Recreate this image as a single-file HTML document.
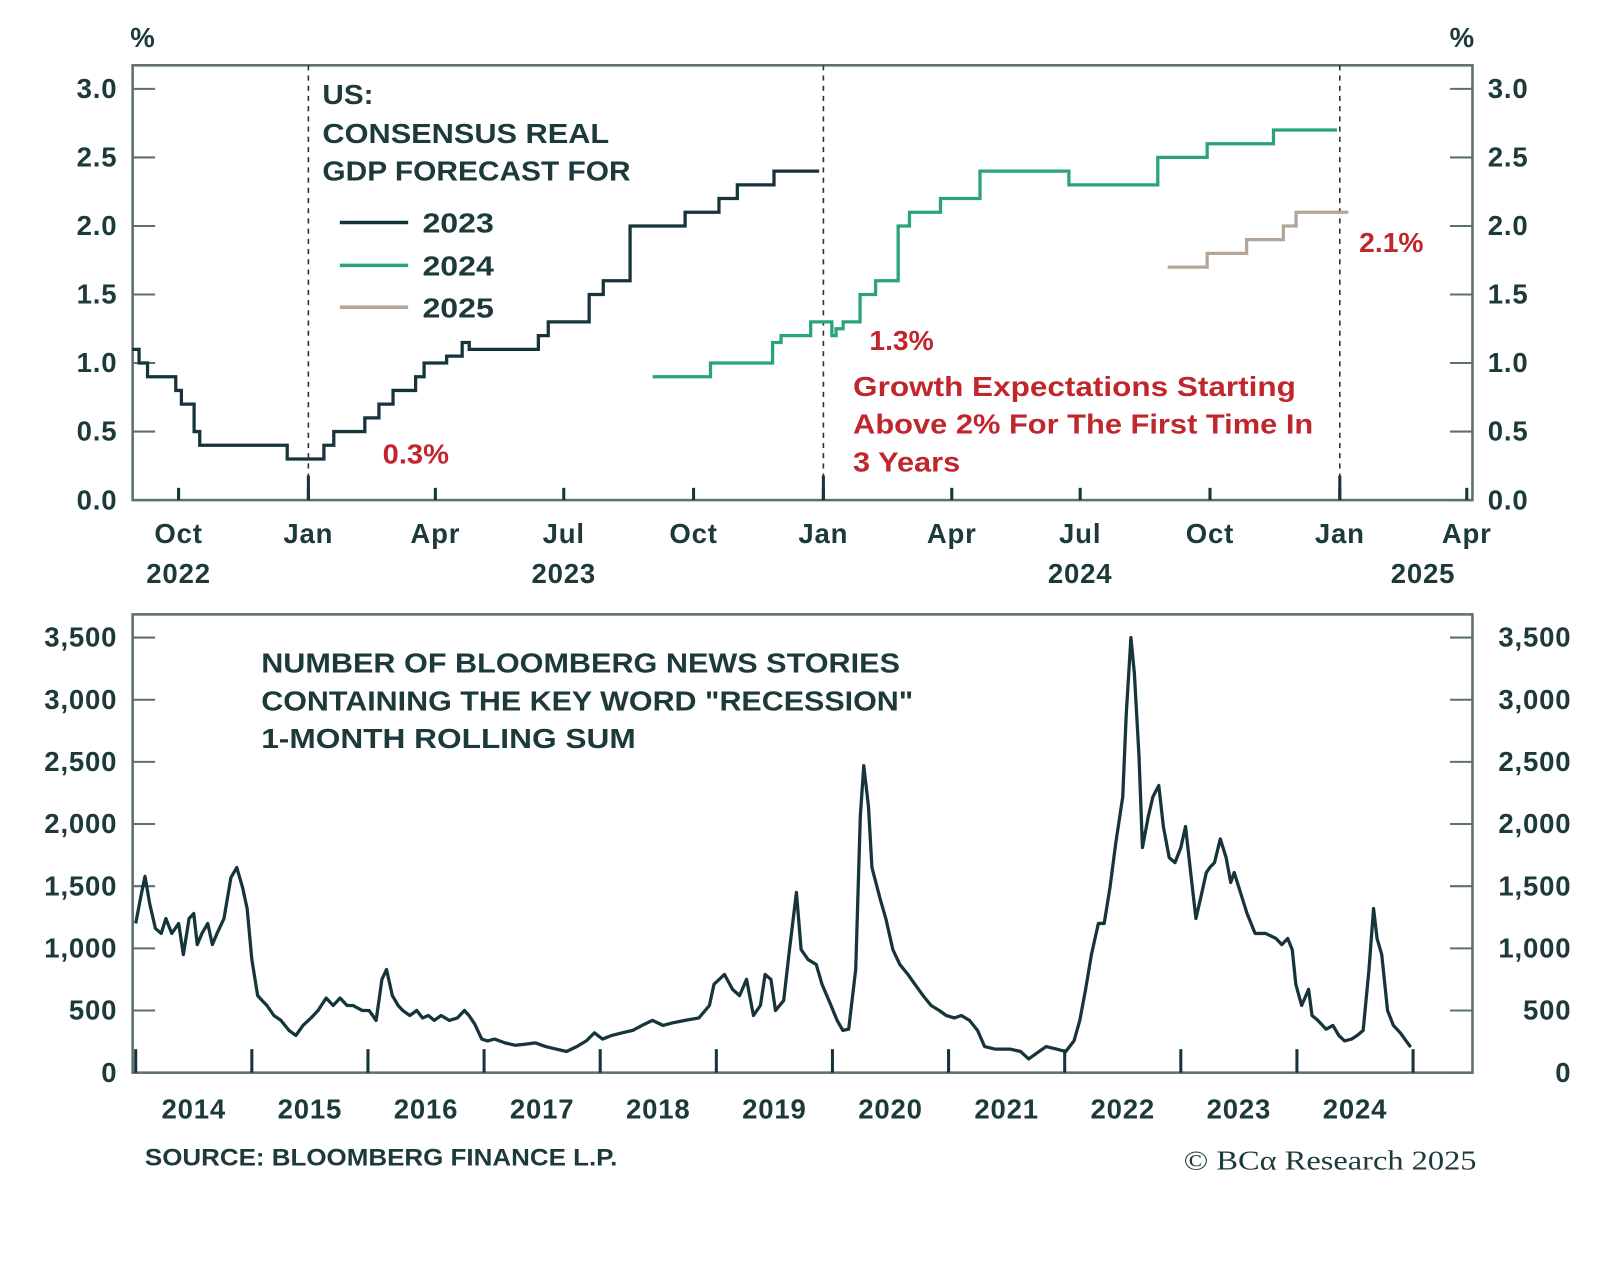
<!DOCTYPE html>
<html><head><meta charset="utf-8">
<style>
body{margin:0;background:#fff;}
svg{display:block;font-family:"Liberation Sans",sans-serif;}
.t{fill:#1d3a3a;font-size:27px;font-weight:bold;letter-spacing:0.8px;}
.r{fill:#c0272d;font-size:27px;font-weight:bold;}
</style></head>
<body>
<svg id="c" width="1600" height="1288" viewBox="0 0 1568 1262" preserveAspectRatio="none"></svg>
<script>
// ---- top chart data (step series: date of change, value) ----
const d2023 = ["2022-08-29","2022-09-03","2022-09-09","2022-09-29","2022-10-03","2022-10-12","2022-10-16","2022-12-17","2023-01-12","2023-01-19","2023-02-10","2023-02-20","2023-03-02","2023-03-18","2023-03-24","2023-04-09","2023-04-20","2023-04-25","2023-06-13","2023-06-20","2023-07-19","2023-07-29","2023-08-17","2023-09-25","2023-10-19","2023-11-01","2023-11-27","2023-12-29"];
const v2023 = [1.1,1.0,0.9,0.8,0.7,0.5,0.4,0.3,0.4,0.5,0.6,0.7,0.8,0.9,1.0,1.05,1.15,1.1,1.2,1.3,1.5,1.6,2.0,2.1,2.2,2.3,2.4,2.4];
const d2024 = ["2023-09-02","2023-10-13","2023-11-26","2023-12-02","2023-12-23","2024-01-07","2024-01-10","2024-01-15","2024-01-27","2024-02-07","2024-02-23","2024-03-02","2024-03-24","2024-04-21","2024-06-23","2024-08-25","2024-09-29","2024-11-15","2024-12-30"];
const v2024 = [0.9,1.0,1.15,1.2,1.3,1.2,1.25,1.3,1.5,1.6,2.0,2.1,2.2,2.4,2.3,2.5,2.6,2.7,2.7];
const d2025 = ["2024-09-01","2024-09-29","2024-10-27","2024-11-22","2024-12-01","2025-01-07"];
const v2025 = [1.7,1.8,1.9,2.0,2.1,2.1];
const topYTicks = [0,0.5,1,1.5,2,2.5,3];
const topYLabels = ["0.0","0.5","1.0","1.5","2.0","2.5","3.0"];
const topXTicks = ["2022-10-01","2023-01-01","2023-04-01","2023-07-01","2023-10-01","2024-01-01","2024-04-01","2024-07-01","2024-10-01","2025-01-01","2025-04-01"];
const topXLabels = ["Oct","Jan","Apr","Jul","Oct","Jan","Apr","Jul","Oct","Jan","Apr"];
const topYearLabels = [["2022","2022-10-01"],["2023","2023-07-01"],["2024","2024-07-01"],["2025","2025-03-01"]];
// ---- bottom chart data ----
const newsYears = [2014.00,2014.04,2014.08,2014.12,2014.17,2014.22,2014.26,2014.31,2014.37,2014.41,2014.46,2014.50,2014.53,2014.57,2014.62,2014.66,2014.70,2014.76,2014.82,2014.87,2014.92,2014.96,2015.00,2015.05,2015.09,2015.13,2015.19,2015.25,2015.32,2015.38,2015.44,2015.51,2015.57,2015.64,2015.70,2015.76,2015.82,2015.87,2015.95,2016.01,2016.07,2016.12,2016.16,2016.21,2016.26,2016.30,2016.36,2016.42,2016.47,2016.52,2016.57,2016.63,2016.70,2016.77,2016.83,2016.87,2016.92,2016.98,2017.03,2017.09,2017.18,2017.27,2017.36,2017.44,2017.53,2017.62,2017.71,2017.80,2017.88,2017.95,2018.02,2018.10,2018.19,2018.28,2018.36,2018.45,2018.54,2018.62,2018.73,2018.85,2018.94,2018.98,2019.07,2019.14,2019.20,2019.26,2019.32,2019.38,2019.42,2019.47,2019.51,2019.58,2019.63,2019.69,2019.73,2019.79,2019.86,2019.91,2019.97,2020.04,2020.09,2020.14,2020.20,2020.24,2020.27,2020.31,2020.34,2020.41,2020.46,2020.52,2020.58,2020.65,2020.71,2020.78,2020.85,2020.92,2020.98,2021.05,2021.11,2021.18,2021.25,2021.31,2021.40,2021.53,2021.62,2021.69,2021.75,2021.84,2021.93,2022.01,2022.08,2022.13,2022.18,2022.23,2022.29,2022.34,2022.39,2022.44,2022.50,2022.53,2022.57,2022.60,2022.64,2022.67,2022.72,2022.76,2022.81,2022.85,2022.90,2022.95,2023.00,2023.04,2023.09,2023.13,2023.17,2023.22,2023.25,2023.29,2023.34,2023.39,2023.43,2023.46,2023.50,2023.57,2023.64,2023.73,2023.82,2023.87,2023.92,2023.96,2023.99,2024.04,2024.10,2024.13,2024.18,2024.25,2024.31,2024.36,2024.41,2024.47,2024.52,2024.57,2024.62,2024.66,2024.69,2024.73,2024.78,2024.83,2024.89,2024.94,2024.98];
const newsValues = [1200,1400,1580,1360,1160,1120,1240,1120,1200,950,1240,1280,1030,1120,1200,1030,1120,1240,1570,1650,1490,1320,910,620,580,540,460,420,340,300,380,440,500,600,540,600,540,540,500,500,420,750,830,620,540,500,460,500,440,460,420,460,420,440,500,460,390,270,255,270,240,220,230,240,210,190,170,210,255,320,270,300,320,340,380,420,380,400,420,440,540,710,790,670,620,750,460,540,790,750,500,580,990,1450,990,910,870,710,580,420,340,350,830,2060,2470,2140,1650,1400,1240,990,870,790,710,620,540,500,460,440,460,420,340,210,190,190,170,110,150,210,190,170,255,420,670,950,1200,1200,1490,1850,2220,2880,3500,3210,2550,1810,2060,2220,2310,1980,1730,1690,1810,1980,1570,1240,1400,1610,1650,1690,1880,1730,1530,1610,1490,1280,1120,1120,1080,1030,1080,990,710,540,670,460,420,350,380,300,255,270,300,340,830,1320,1080,950,500,380,320,255,205];
const botYTicks = [0,500,1000,1500,2000,2500,3000,3500];
const botYLabels = ["0","500","1,000","1,500","2,000","2,500","3,000","3,500"];
const botXTicks = [2014,2015,2016,2017,2018,2019,2020,2021,2022,2023,2024,2025];
const botXLabels = ["2014","2015","2016","2017","2018","2019","2020","2021","2022","2023","2024"];

const svg = document.getElementById('c');
const NS = "http://www.w3.org/2000/svg";
function el(tag, attrs, parent){const e=document.createElementNS(NS,tag);for(const k in attrs)e.setAttribute(k,attrs[k]);(parent||svg).appendChild(e);return e;}
function txt(s,x,y,cls,anchor,parent,len){const e=el('text',{x:x,y:y,'class':cls,'text-anchor':anchor||'start'},parent);if(len){e.setAttribute('textLength',len);e.setAttribute('lengthAdjust','spacingAndGlyphs');e.style.letterSpacing='0';}e.textContent=s;return e;}

// ---- top scales ----
const T0 = Date.UTC(2022,9,1), T1 = Date.UTC(2025,0,1);
function tx(s){const p=s.split('-');const t=Date.UTC(+p[0],+p[1]-1,+p[2]);return 175+(t-T0)/(T1-T0)*(1313-175);}
function ty(v){return 490 - v*134.3;}
const AX='#5e6f70', LN='#15353a';

const topG = el('g',{});


el('rect',{x:130,y:64,width:1313,height:426,fill:'none',stroke:AX,'stroke-width':2.5},topG);
txt('%',140,46,'t','middle',topG);
txt('%',1433,46,'t','middle',topG);
topYTicks.forEach((v,i)=>{
  const y=ty(v);
  el('line',{x1:130,x2:152,y1:y,y2:y,stroke:AX,'stroke-width':2},topG);
  el('line',{x1:1421,x2:1443,y1:y,y2:y,stroke:AX,'stroke-width':2},topG);
  const a=txt(topYLabels[i],115,y+9,'t','end',topG);
  
  const b=txt(topYLabels[i],1458,y+9,'t','start',topG);
  
});
topXTicks.forEach((d,i)=>{
  const x=tx(d);
  el('line',{x1:x,x2:x,y1:490,y2:478,stroke:LN,'stroke-width':3},topG);
  const l=txt(topXLabels[i],x,532,'t','middle',topG);
  
});
topYearLabels.forEach(p=>{const l=txt(p[0],tx(p[1]),571,'t','middle',topG);});
["2023-01-01","2024-01-01","2025-01-01"].forEach(d=>{
  const x=tx(d);
  const l=el('line',{x1:x,x2:x,y1:64,y2:490,stroke:'#333','stroke-width':1.6,'stroke-dasharray':'5,5'},topG);
  
  el('line',{x1:x,x2:x,y1:466,y2:490,stroke:LN,'stroke-width':3},topG);
});
function step(ds,vs,color,name){
  let p='';
  ds.forEach((d,i)=>{const x=tx(d),y=ty(vs[i]);p+= i===0?`M${x},${y}`:`H${x}V${y}`;});
  const e=el('path',{d:p,fill:'none',stroke:color,'stroke-width':3.2},topG);
  
  
}
step(d2023,v2023,LN,'series-2023');
step(d2024,v2024,'#2aa37a','series-2024');
step(d2025,v2025,'#b3a698','series-2025');
txt('US:',316,102,'t','start',topG,50);
txt('CONSENSUS REAL',316,140,'t','start',topG,281);
txt('GDP FORECAST FOR',316,177,'t','start',topG,302);
[['2023',LN,228],['2024','#2aa37a',270],['2025','#b3a698',311]].forEach(l=>{
  const g=el('g',{},topG);
  
  
  el('line',{x1:333,x2:400,y1:l[2]-10,y2:l[2]-10,stroke:l[1],'stroke-width':3.5},g);
  txt(l[0],414,l[2],'t','start',g,70);
});
txt('0.3%',375,454,'r','start',topG,65);
txt('1.3%',852,343,'r','start',topG,63);
txt('2.1%',1332,247,'r','start',topG,63);
txt('Growth Expectations Starting',836,388,'r','start',topG,434);
txt('Above 2% For The First Time In',836,425,'r','start',topG,451);
txt('3 Years',836,462,'r','start',topG,105);

// ---- bottom scales ----
function bx(yr){return 133+(yr-2014)*113.8;}
function by(v){return 1051 - v*0.1218;}
const botG = el('g',{});


el('rect',{x:130,y:602,width:1313,height:449,fill:'none',stroke:AX,'stroke-width':2.5},botG);
botYTicks.forEach((v,i)=>{
  const y=by(v);
  el('line',{x1:130,x2:152,y1:y,y2:y,stroke:AX,'stroke-width':2},botG);
  el('line',{x1:1421,x2:1443,y1:y,y2:y,stroke:AX,'stroke-width':2},botG);
  const a=txt(botYLabels[i],115,y+9,'t','end',botG);
  
  const b=txt(botYLabels[i],1540,y+9,'t','end',botG);
  
});
botXTicks.forEach(y=>{const x=bx(y);el('line',{x1:x,x2:x,y1:1051,y2:1028,stroke:LN,'stroke-width':3},botG);});
botXLabels.forEach((s,i)=>{const l=txt(s,bx(botXTicks[i]+0.5),1096,'t','middle',botG);});
let bp='';
newsYears.forEach((yr,i)=>{bp+=(i?'L':'M')+bx(yr).toFixed(1)+','+by(newsValues[i]).toFixed(1);});
const newsLine=el('path',{d:bp,fill:'none',stroke:LN,'stroke-width':3.2,'stroke-linejoin':'round'},botG);


txt('NUMBER OF BLOOMBERG NEWS STORIES',256,659,'t','start',botG,626);
txt('CONTAINING THE KEY WORD "RECESSION"',256,696,'t','start',botG,639);
txt('1-MONTH ROLLING SUM',256,733,'t','start',botG,367);
const src=txt('SOURCE: BLOOMBERG FINANCE L.P.',142,1142,'t','start',null,463);

src.style.fontSize='24px';
const cr=el('text',{x:1160,y:1146,'text-anchor':'start',fill:'#1d3a3a','font-size':'27px','font-family':'"Liberation Serif",serif','textLength':287,'lengthAdjust':'spacingAndGlyphs'});
cr.textContent='© BCα Research 2025';

</script>
</body></html>
